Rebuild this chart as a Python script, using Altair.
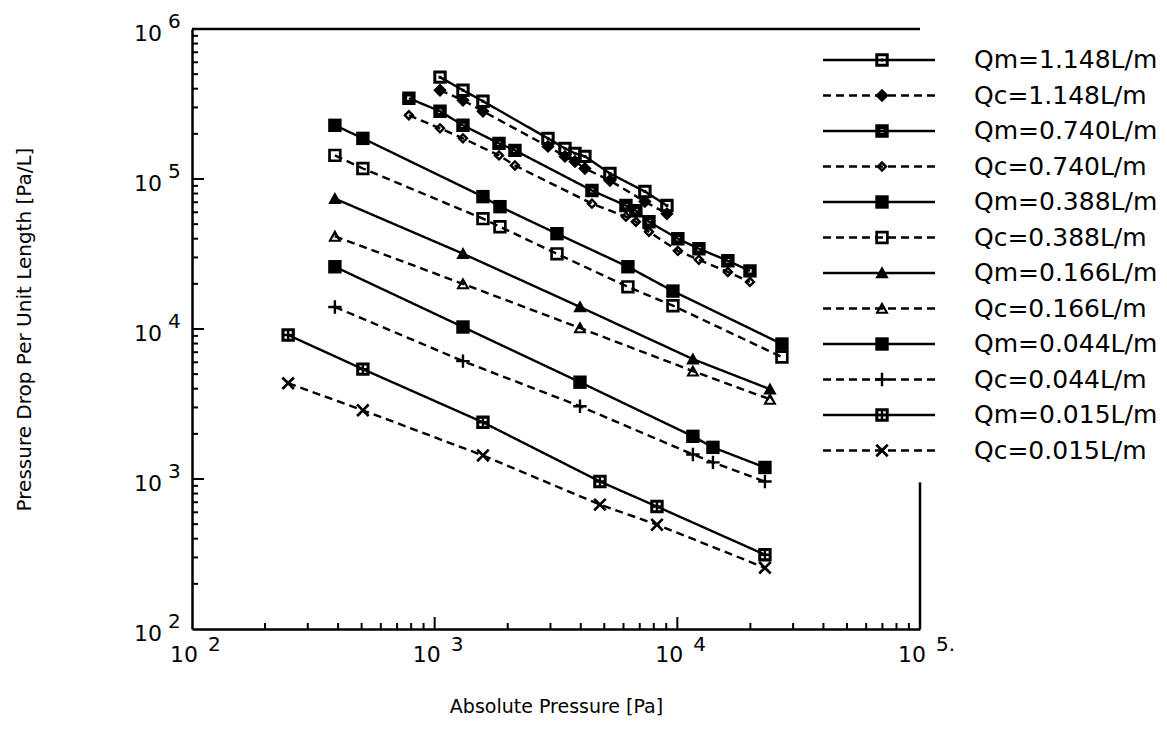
import altair as alt
import pandas as pd

FONT = "DejaVu Sans"

# ---------------- data ----------------
P_1148 = [1052, 1308, 1581, 2930, 3443, 3786, 4160, 5275, 7350, 9060]
DP_Qm1148 = [477500, 390900, 329800, 186600, 160000, 148200, 141500, 108900, 82500, 66500]
DP_Qc1148 = [390900, 334900, 283000, 164900, 141500, 130900, 117500, 97700, 70700, 58700]

P_0740 = [783, 1052, 1308, 1841, 2142, 4447, 6140, 6748, 7640, 10050, 12270, 16150, 19920]
DP_Qm0740 = [345300, 283000, 228000, 172700, 155200, 83800, 66500, 61500, 51900, 40000, 34300, 28500, 24400]
DP_Qc0740 = [266000, 217600, 186600, 143700, 123100, 68500, 56100, 51900, 44500, 33200, 28900, 24000, 20600]

P_0388 = [388, 506, 1581, 1858, 3191, 6256, 9590, 26980]
DP_Qm0388 = [228000, 186600, 76300, 65400, 43200, 26000, 17900, 7940]
DP_Qc0388 = [143700, 117500, 54400, 48100, 31700, 19100, 14300, 6500]

P_0166 = [388, 1308, 3970, 11590, 24080]
DP_Qm0166 = [74000, 31770, 14030, 6300, 3970]
DP_Qc0166 = [41500, 20000, 10160, 5240, 3400]

P_0044 = [388, 1308, 3970, 11590, 14020, 22960]
DP_Qm0044 = [26000, 10310, 4420, 1925, 1625, 1194]
DP_Qc0044 = [14030, 6110, 3055, 1458, 1290, 962]

P_0015 = [249, 506, 1581, 4798, 8243, 22960]
DP_Qm0015 = [9120, 5400, 2387, 962, 655, 313]
DP_Qc0015 = [4350, 2872, 1436, 675, 496, 256]

SERIES = [
    ("Qm=1.148L/m", "Qm", P_1148, DP_Qm1148),
    ("Qc=1.148L/m", "Qc", P_1148, DP_Qc1148),
    ("Qm=0.740L/m", "Qm", P_0740, DP_Qm0740),
    ("Qc=0.740L/m", "Qc", P_0740, DP_Qc0740),
    ("Qm=0.388L/m", "Qm", P_0388, DP_Qm0388),
    ("Qc=0.388L/m", "Qc", P_0388, DP_Qc0388),
    ("Qm=0.166L/m", "Qm", P_0166, DP_Qm0166),
    ("Qc=0.166L/m", "Qc", P_0166, DP_Qc0166),
    ("Qm=0.044L/m", "Qm", P_0044, DP_Qm0044),
    ("Qc=0.044L/m", "Qc", P_0044, DP_Qc0044),
    ("Qm=0.015L/m", "Qm", P_0015, DP_Qm0015),
    ("Qc=0.015L/m", "Qc", P_0015, DP_Qc0015),
]
NAMES = [s[0] for s in SERIES]

X_DECADES = [100, 1000, 10000, 100000]
X_EXPS = ["2", "3", "4", "5."]
Y_DECADES = [100, 1000, 10000, 100000, 1000000]
Y_EXPS = ["2", "3", "4", "5", "6"]
X_MAJOR = [1000, 10000]
X_MINOR = [m * 10 ** k for k in (2, 3, 4) for m in range(2, 10)]
Y_MAJOR = [1000, 10000, 100000]
Y_MINOR = [m * 10 ** k for k in (2, 3, 4, 5) for m in range(2, 10)]
RIGHT_FRAME_TOP = 950   # where the legend box hides the right frame

# ---------------- marker shapes (unit paths) ----------------
SQ = "M-1,-1L1,-1L1,1L-1,1Z"
SHAPES = [
    SQ + " M-0.55,-0.55L-0.55,0.55L0.55,0.55L0.55,-0.55Z M-0.22,-0.22L0.22,-0.22L0.22,0.22L-0.22,0.22Z",
    "M0,-1L1,0L0,1L-1,0Z",
    SQ + " M-0.25,-0.25L-0.25,0.25L0.25,0.25L0.25,-0.25Z",
    "M0,-0.85L0.85,0L0,0.85L-0.85,0Z M0,-0.35L-0.35,0L0,0.35L0.35,0Z",
    SQ,
    SQ + " M-0.6,-0.6L-0.6,0.6L0.6,0.6L0.6,-0.6Z",
    "M0,-1L1,0.8L-1,0.8Z",
    "M0,-1L1,0.8L-1,0.8Z M0,-0.2L-0.5,0.5L0.5,0.5Z",
    SQ,
    "M-0.18,-1L0.18,-1L0.18,-0.18L1,-0.18L1,0.18L0.18,0.18L0.18,1L-0.18,1L-0.18,0.18L-1,0.18L-1,-0.18L-0.18,-0.18Z",
    SQ + " M-0.55,-0.55L-0.55,-0.18L-0.18,-0.18L-0.18,-0.55Z M0.18,-0.55L0.18,-0.18L0.55,-0.18L0.55,-0.55Z"
         " M-0.55,0.18L-0.55,0.55L-0.18,0.55L-0.18,0.18Z M0.18,0.18L0.18,0.55L0.55,0.55L0.55,0.18Z",
    "M-1,-0.72L-0.72,-1L0,-0.28L0.72,-1L1,-0.72L0.28,0L1,0.72L0.72,1L0,0.28L-0.72,1L-1,0.72L-0.28,0Z",
]

# ---------------- tables ----------------
rows = []
for name, kind, ps, dps in SERIES:
    for p, d in zip(ps, dps):
        rows.append({"series": name, "kind": kind, "P": p, "dp": d})
df = pd.DataFrame(rows)

leg = pd.DataFrame({"series": NAMES, "kind": [s[1] for s in SERIES], "row": list(range(len(NAMES)))})
frame = pd.DataFrame({"x": [100, 100000], "x2": [100000, 100000],
                      "y": [1000000, 100], "y2": [1000000, RIGHT_FRAME_TOP]})

W, H = 728, 600

xs = alt.Scale(type="log", domain=[100, 100000], nice=False)
ys = alt.Scale(type="log", domain=[100, 1000000], nice=False)
dash = alt.Scale(domain=["Qm", "Qc"], range=[[1, 0], [8, 5]])
shp = alt.Scale(domain=NAMES, range=SHAPES)

xaxis = alt.Axis(title="Absolute Pressure [Pa]", labels=False, ticks=False, grid=False,
                 domainWidth=2.5, domainColor="black", titleFont=FONT, titleFontSize=19,
                 titleFontWeight="normal", titleColor="black", titlePadding=68)
yaxis = alt.Axis(title="Pressure Drop Per Unit Length [Pa/L]", labels=False, ticks=False, grid=False,
                 domainWidth=2.5, domainColor="black", titleFont=FONT, titleFontSize=20,
                 titleFontWeight="normal", titleColor="black", titlePadding=158)

lines = alt.Chart(df).mark_line(color="black", strokeWidth=2.4).encode(
    x=alt.X("P:Q", scale=xs, axis=xaxis),
    y=alt.Y("dp:Q", scale=ys, axis=yaxis),
    detail="series:N",
    strokeDash=alt.StrokeDash("kind:N", scale=dash, legend=None),
    order=alt.Order("P:Q"),
)
points = alt.Chart(df).mark_point(filled=True, color="black", size=180, opacity=1, strokeWidth=0).encode(
    x=alt.X("P:Q", scale=xs),
    y=alt.Y("dp:Q", scale=ys),
    shape=alt.Shape("series:N", scale=shp, legend=None),
)
frame_l = alt.Chart(frame).mark_rule(color="black", strokeWidth=2.5).encode(
    x=alt.X("x:Q", scale=xs), x2="x2:Q", y=alt.Y("y:Q", scale=ys), y2="y2:Q")

def xt(vals, ln):
    return alt.Chart(pd.DataFrame({"v": vals})).mark_rule(color="black", strokeWidth=2).encode(
        x=alt.X("v:Q", scale=xs), y=alt.value(H), y2=alt.value(H - ln))

def yt(vals, ln):
    return alt.Chart(pd.DataFrame({"v": vals})).mark_rule(color="black", strokeWidth=2).encode(
        y=alt.Y("v:Q", scale=ys), x=alt.value(0), x2=alt.value(ln))

xl = pd.DataFrame({"v": X_DECADES, "b": ["10"] * len(X_DECADES), "e": X_EXPS})
yl = pd.DataFrame({"v": Y_DECADES, "b": ["10"] * len(Y_DECADES), "e": Y_EXPS})
x10 = alt.Chart(xl).mark_text(font=FONT, fontSize=22, align="right", baseline="alphabetic", dx=6, color="black").encode(
    x=alt.X("v:Q", scale=xs), y=alt.value(H + 33), text="b:N")
xe = alt.Chart(xl).mark_text(font=FONT, fontSize=20, align="left", baseline="alphabetic", dx=16, color="black").encode(
    x=alt.X("v:Q", scale=xs), y=alt.value(H + 22), text="e:N")
y10 = alt.Chart(yl).mark_text(font=FONT, fontSize=22, align="right", baseline="middle", dy=5, color="black").encode(
    y=alt.Y("v:Q", scale=ys), x=alt.value(-30), text="b:N")
ye = alt.Chart(yl).mark_text(font=FONT, fontSize=20, align="left", baseline="middle", dy=-7, color="black").encode(
    y=alt.Y("v:Q", scale=ys), x=alt.value(-24), text="e:N")

legbase = alt.Chart(leg).transform_calculate(
    ly="31 + 35.5 * datum.row", lx0="631", lx1="743", lxm="690", lxt="782")
leg_lines = legbase.mark_rule(color="black", strokeWidth=2.4).encode(
    x=alt.X("lx0:Q", scale=None), x2="lx1:Q", y=alt.Y("ly:Q", scale=None),
    strokeDash=alt.StrokeDash("kind:N", scale=dash, legend=None))
leg_pts = legbase.mark_point(filled=True, color="black", size=180, opacity=1, strokeWidth=0).encode(
    x=alt.X("lxm:Q", scale=None), y=alt.Y("ly:Q", scale=None),
    shape=alt.Shape("series:N", scale=shp, legend=None))
leg_txt = legbase.mark_text(font=FONT, fontSize=25, align="left", baseline="middle", color="black").encode(
    x=alt.X("lxt:Q", scale=None), y=alt.Y("ly:Q", scale=None), text="series:N")

chart = alt.layer(
    lines, points, frame_l,
    xt(X_MAJOR, 12), xt(X_MINOR, 6), yt(Y_MAJOR, 12), yt(Y_MINOR, 6),
    x10, xe, y10, ye,
    leg_lines, leg_pts, leg_txt,
).properties(
    width=W, height=H,
    padding={"left": 192, "top": 29, "right": 247, "bottom": 121},
    autosize=alt.AutoSizeParams(type="none"),
    background="white",
).configure_view(strokeWidth=0)

chart.save("out.html", embed_options={"renderer": "svg", "actions": False})
